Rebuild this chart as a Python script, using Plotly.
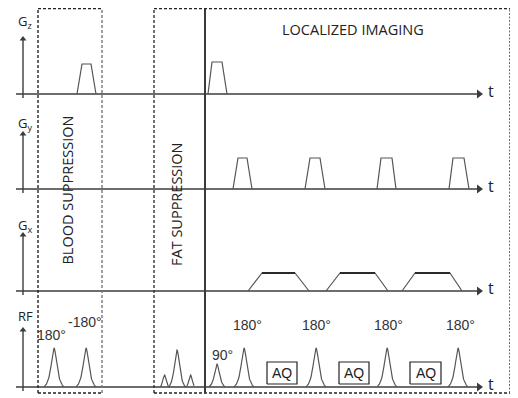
import numpy as np
import plotly.graph_objects as go

# ---------------- data (time axis in arbitrary units, amplitudes in arbitrary units) -------------
channel_names = ["Gz", "Gy", "Gx", "RF"]
channel_labels = ["G<sub>z</sub>", "G<sub>y</sub>", "G<sub>x</sub>", "RF"]

# trapezoid gradients: ramp-up start, plateau start, plateau end, ramp-down end, amplitude
gz_start = [77, 208]
gz_flat0 = [82, 212]
gz_flat1 = [91, 222]
gz_end = [96, 227]
gz_amp = [30, 32]

gy_start = [233, 305, 377, 449]
gy_flat0 = [238, 310, 381, 453]
gy_flat1 = [247, 320, 392, 464]
gy_end = [252, 325, 396, 469]
gy_amp = [31, 31, 31, 31]

gx_start = [248, 326, 402]
gx_flat0 = [262, 340, 415]
gx_flat1 = [295, 375, 450]
gx_end = [309, 388, 462]
gx_amp = [18, 18, 18]

# RF pulses
rf_center = [54, 86, 217, 244, 316, 387, 458]
rf_amp = [39, 39, 23, 39, 39, 39, 39]
rf_label = ["180°", "-180°", "90°", "180°", "180°", "180°", "180°"]

fat_center = [177]
fat_amp = [37]
fat_side_amp = [12]

aq_start = [267, 339, 410]
aq_end = [297, 369, 441]
aq_label = ["AQ", "AQ", "AQ"]

section_names = ["BLOOD SUPPRESSION", "FAT SUPPRESSION", "LOCALIZED IMAGING"]

# ---------------- layout helpers -------------
# the page body has an 8px margin, so the figure is 8px smaller and the ranges start accordingly
PAGE_W, PAGE_H, OFF = 518, 398, 8
W, H = PAGE_W - OFF, PAGE_H - OFF
base = {"Gz": 304, "Gy": 209, "Gx": 107, "RF": 11}
arrow_top = {"Gz": 361, "Gy": 266, "Gx": 165, "RF": 70}
label_y = {"Gz": 376, "Gy": 274.5, "Gx": 172, "RF": 82}
T0, T1 = 16, 482
AX_X = 23
LINE = "#3c3c3c"
PULSE = "#555555"
FONT = "Open Sans, Liberation Sans, sans-serif"
NARROW = "Liberation Sans Narrow, Arial Narrow, Liberation Sans, sans-serif"

fig = go.Figure()


def add_line(x, y, color, width, dash=None):
    fig.add_trace(go.Scatter(x=x, y=y, mode="lines",
                             line=dict(color=color, width=width, dash=dash),
                             hoverinfo="skip", showlegend=False, cliponaxis=False))


def trap(ch, s, f0, f1, e, a, color=PULSE, width=1.2, top_color=None):
    b = base[ch]
    for i in range(len(s)):
        add_line([s[i], f0[i], f1[i], e[i]], [b, b + a[i], b + a[i], b], color, width)
        if top_color:
            add_line([f0[i], f1[i]], [b + a[i], b + a[i]], top_color, 1.8)


# baselines and vertical axes with arrow heads
for ch in channel_names:
    y0 = base[ch]
    add_line([T0, T1 - 4], [y0, y0], LINE, 1.6)
    add_line([AX_X, AX_X], [y0 - 4, arrow_top[ch] - 3], LINE, 1.4)
fig.add_trace(go.Scatter(x=[T1 - 3] * 4, y=[base[c] for c in channel_names], mode="markers",
                         marker=dict(symbol="triangle-right", size=8, color=LINE),
                         hoverinfo="skip", showlegend=False, cliponaxis=False))
fig.add_trace(go.Scatter(x=[AX_X] * 4, y=[arrow_top[c] - 2 for c in channel_names], mode="markers",
                         marker=dict(symbol="triangle-up", size=6, color=LINE),
                         hoverinfo="skip", showlegend=False, cliponaxis=False))

trap("Gz", gz_start, gz_flat0, gz_flat1, gz_end, gz_amp)
trap("Gy", gy_start, gy_flat0, gy_flat1, gy_end, gy_amp)
trap("Gx", gx_start, gx_flat0, gx_flat1, gx_end, gx_amp, top_color="#2a2a2a")


def rf_pulse(c, a, half=10.0, gamma=4.0):
    t = np.linspace(c - half, c + half, 81)
    L = 1 / (1 + ((t - c) / gamma) ** 2)
    L0 = 1 / (1 + (half / gamma) ** 2)
    return t, a * (L - L0) / (1 - L0)


b = base["RF"]
for c, a in zip(rf_center, rf_amp):
    t, y = rf_pulse(c, a, half=10.0 if a > 30 else 8.0, gamma=3.6 if a > 30 else 3.2)
    add_line(t, b + y, PULSE, 1.2)

for c, a, sa in zip(fat_center, fat_amp, fat_side_amp):
    t = np.linspace(c - 17, c + 17, 241)
    L0 = 1 / (1 + (8 / 3.4) ** 2)
    main = np.clip((1 / (1 + ((t - c) / 3.4) ** 2) - L0) / (1 - L0), 0, None) * a
    side = sa * (np.exp(-0.5 * ((t - (c - 12.5)) / 1.6) ** 2) +
                 np.exp(-0.5 * ((t - (c + 13.5)) / 1.6) ** 2))
    side = np.where(np.abs(np.abs(t - c) - 13) < 4.5, side, 0)
    add_line(t, b + np.maximum(main, side), PULSE, 1.2)

annotations = []

# acquisition boxes
for s, e, lab in zip(aq_start, aq_end, aq_label):
    add_line([s, e, e, s, s], [b + 3, b + 3, b + 25, b + 25, b + 3], "#222", 1.2)
    annotations.append(dict(x=(s + e) / 2, y=b + 14, text=lab, showarrow=False,
                            font=dict(family=NARROW, size=14, color="#222")))

# channel labels and t labels
for ch, lab in zip(channel_names, channel_labels):
    annotations.append(dict(x=491, y=base[ch] + 3, text="t", showarrow=False,
                            font=dict(family=FONT, size=16, color="#222")))
    annotations.append(dict(x=16, y=label_y[ch], text=lab, showarrow=False, xanchor="left",
                            font=dict(family=FONT, size=13, color="#222")))

# RF flip-angle labels (positions of the text above the RF baseline)
rf_label_y = [63, 76, 43, 73, 73, 73, 73]
rf_label_x = [51, 85, 222, 247, 316, 388, 460]
for lab, lx, ly in zip(rf_label, rf_label_x, rf_label_y):
    annotations.append(dict(x=lx, y=ly, text=lab, showarrow=False,
                            font=dict(family=NARROW, size=14, color="#333")))

# section boxes
TOP, BOT = 389.5, 5
dash = "3px,2px"
shapes = []
def seg(x0, x1, y0, y1, color="#222", width=1.4, d=dash):
    shapes.append(dict(type="line", x0=x0, x1=x1, y0=y0, y1=y1, layer="above",
                       line=dict(color=color, width=width, dash=d)))

seg(38, 38, BOT, TOP)
seg(102, 102, BOT, TOP, color="#777")
seg(38, 102, TOP, TOP)
seg(38, 102, BOT, BOT)
seg(154, 154, BOT, TOP, color="#333")
seg(154, 510, TOP, TOP)
seg(154, 510, BOT, BOT)
seg(510, 510, BOT, TOP, color="#333", d="2px,1.5px")
seg(205, 205, BOT, TOP, color="#3a3a3a", width=2, d="solid")

# section titles
annotations.append(dict(x=67, y=207.5, text=section_names[0], textangle=-90, showarrow=False,
                        font=dict(family=FONT, size=14.5, color="#222")))
annotations.append(dict(x=176, y=194, text=section_names[1], textangle=-90, showarrow=False,
                        font=dict(family=FONT, size=14.5, color="#222")))
annotations.append(dict(x=353, y=369, text=section_names[2], showarrow=False,
                        font=dict(family=FONT, size=14.5, color="#222")))

fig.update_layout(
    width=W, height=H, margin=dict(l=0, r=0, t=0, b=0),
    paper_bgcolor="white", plot_bgcolor="white",
    xaxis=dict(range=[OFF, PAGE_W], visible=False, fixedrange=True),
    yaxis=dict(range=[0, H], visible=False, fixedrange=True),
    shapes=shapes, annotations=annotations,
    showlegend=False,
)

fig.write_html("out.html")
